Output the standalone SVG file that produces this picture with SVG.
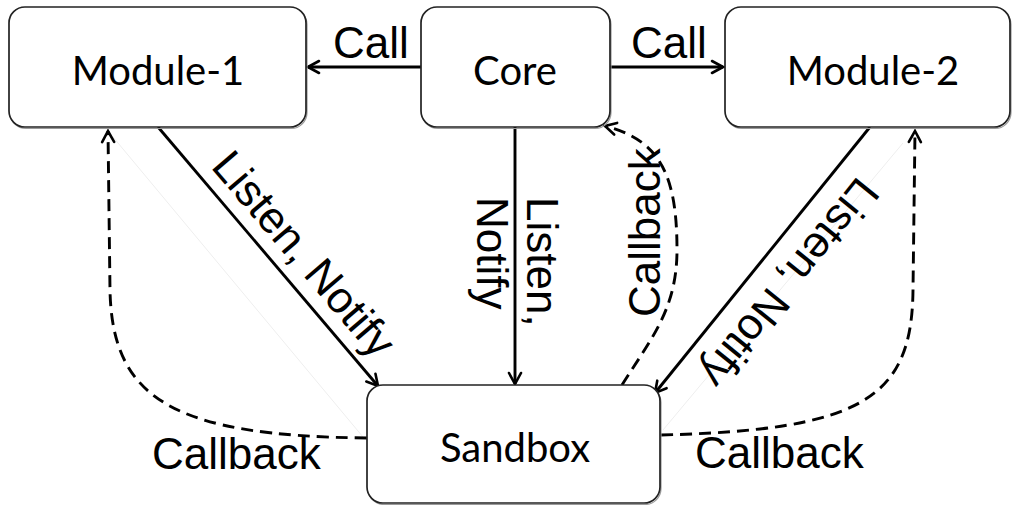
<svg xmlns="http://www.w3.org/2000/svg" width="1012" height="505" viewBox="0 0 1012 505">
  <style>
    .box { fill: #ffffff; stroke: #222222; stroke-width: 1.7; }
    .shadow { fill: none; stroke: #9a9a9a; stroke-width: 1.2; }
    .node-label { font-family: Lato, "Open Sans", sans-serif; font-size: 40px; fill: #000; text-anchor: middle; }
    .edge-label { font-family: "Liberation Sans", Arial, sans-serif; font-size: 44px; fill: #000; }
    .solid { fill: none; stroke: #000; stroke-width: 2.9; }
    .dashed { fill: none; stroke: #000; stroke-width: 2.9; stroke-dasharray: 12 7; }
    .faint { fill: none; stroke: #eeeeee; stroke-width: 1; }
  </style>
  <defs>
    <marker id="arrow" markerUnits="userSpaceOnUse" viewBox="0 0 16 16" refX="14" refY="8" markerWidth="16" markerHeight="16" orient="auto">
      <path d="M3,2 L14,8 L3,14" fill="none" stroke="#000" stroke-width="2.6" stroke-linecap="round" stroke-linejoin="miter"/>
    </marker>
  </defs>
  <rect width="1012" height="505" fill="#ffffff"/>

  <g id="faint-lines">
    <line class="faint" x1="113" y1="137" x2="363" y2="437"/>
    <line class="faint" x1="903" y1="143" x2="663" y2="430"/>
  </g>

  <g id="connectors">
    <line class="solid" x1="421" y1="67" x2="308" y2="67" marker-end="url(#arrow)"/>
    <line class="solid" x1="610" y1="67" x2="723" y2="67" marker-end="url(#arrow)"/>
    <line class="solid" x1="158" y1="127" x2="378" y2="386" marker-end="url(#arrow)"/>
    <line class="solid" x1="515" y1="127" x2="515" y2="384" marker-end="url(#arrow)"/>
    <line class="solid" x1="870" y1="127" x2="655" y2="393" marker-end="url(#arrow)"/>
    <path class="dashed" d="M367,438 C175,436 112,400 110,290 L108,131" marker-end="url(#arrow)"/>
    <path class="dashed" d="M661,435 C860,430 912,400 913,290 L915,131" marker-end="url(#arrow)"/>
    <path class="dashed" d="M622,385 C650,340 677,310 677,250 C677,175 660,140 605,126" marker-end="url(#arrow)"/>
    <text class="edge-label" x="333" y="58">Call</text>
    <text class="edge-label" x="631" y="58">Call</text>
    <text class="edge-label" transform="translate(210,167) rotate(49.5)">Listen, Notify</text>
    <text class="edge-label" transform="translate(527,197) rotate(90)">Listen,</text>
    <text class="edge-label" transform="translate(477,197) rotate(90)">Notify</text>
    <text class="edge-label" transform="translate(660,317) rotate(-90)">Callback</text>
    <text class="edge-label" transform="translate(858,175) rotate(129)">Listen, Notify</text>
    <text class="edge-label" x="152" y="469">Callback</text>
    <text class="edge-label" x="695" y="468">Callback</text>
  </g>

  <g id="module-1">
    <rect class="shadow" x="10" y="8.5" width="297" height="120" rx="16"/>
    <rect class="box" x="9" y="7" width="297" height="120" rx="16"/>
    <text class="node-label" x="158" y="85">Module-1</text>
  </g>
  <g id="core">
    <rect class="shadow" x="422" y="8.5" width="189" height="120" rx="16"/>
    <rect class="box" x="421" y="7" width="189" height="120" rx="16"/>
    <text class="node-label" x="515" y="85">Core</text>
  </g>
  <g id="module-2">
    <rect class="shadow" x="726" y="8.5" width="285" height="120" rx="16"/>
    <rect class="box" x="725" y="7" width="285" height="120" rx="16"/>
    <text class="node-label" x="873" y="85">Module-2</text>
  </g>
  <g id="sandbox">
    <rect class="shadow" x="368" y="386.5" width="293" height="118" rx="16"/>
    <rect class="box" x="367" y="385" width="293" height="118" rx="16"/>
    <text class="node-label" x="515" y="462">Sandbox</text>
  </g>
</svg>
